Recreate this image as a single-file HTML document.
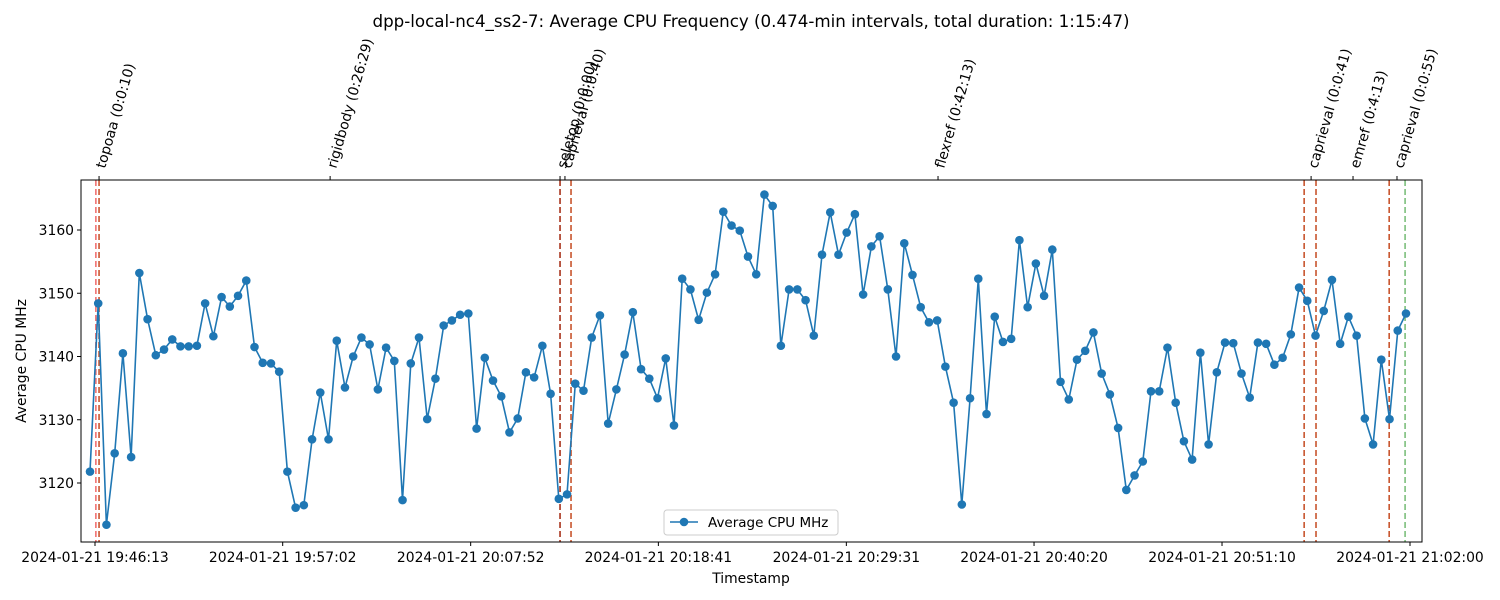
<!DOCTYPE html>
<html><head><meta charset="utf-8"><style>
body{margin:0;background:#fff;}
svg{display:block;font-family:"DejaVu Sans","Liberation Sans",sans-serif;}
</style></head><body>
<svg id="chart" width="1500" height="600">
<text x="751" y="27" font-size="16.7" text-anchor="middle">dpp-local-nc4_ss2-7: Average CPU Frequency (0.474-min intervals, total duration: 1:15:47)</text>
<text x="751" y="583" font-size="13.9" text-anchor="middle">Timestamp</text>
<text x="26" y="361" font-size="13.9" text-anchor="middle" transform="rotate(-90 26 361)">Average CPU MHz</text>
</svg>
<script>
const values=[3121.8,3148.4,3113.4,3124.7,3140.5,3124.1,3153.2,3145.9,3140.2,3141.1,3142.7,3141.6,3141.6,3141.7,3148.4,3143.2,3149.4,3147.9,3149.6,3152.0,3141.5,3139.0,3138.9,3137.6,3121.8,3116.1,3116.5,3126.9,3134.3,3126.9,3142.5,3135.1,3140.0,3143.0,3141.9,3134.8,3141.4,3139.3,3117.3,3138.9,3143.0,3130.1,3136.5,3144.9,3145.7,3146.6,3146.8,3128.6,3139.8,3136.2,3133.7,3128.0,3130.2,3137.5,3136.7,3141.7,3134.1,3117.5,3118.2,3135.7,3134.6,3143.0,3146.5,3129.4,3134.8,3140.3,3147.0,3138.0,3136.5,3133.4,3139.7,3129.1,3152.3,3150.6,3145.8,3150.1,3153.0,3162.9,3160.7,3159.9,3155.8,3153.0,3165.6,3163.8,3141.7,3150.6,3150.6,3148.9,3143.3,3156.1,3162.8,3156.1,3159.6,3162.5,3149.8,3157.4,3159.0,3150.6,3140.0,3157.9,3152.9,3147.8,3145.4,3145.7,3138.4,3132.7,3116.6,3133.4,3152.3,3130.9,3146.3,3142.3,3142.8,3158.4,3147.8,3154.7,3149.6,3156.9,3136.0,3133.2,3139.5,3140.9,3143.8,3137.3,3134.0,3128.7,3118.9,3121.2,3123.4,3134.5,3134.5,3141.4,3132.7,3126.6,3123.7,3140.6,3126.1,3137.5,3142.2,3142.1,3137.3,3133.5,3142.2,3142.0,3138.7,3139.8,3143.5,3150.9,3148.8,3143.3,3147.2,3152.1,3142.0,3146.3,3143.3,3130.2,3126.1,3139.5,3130.1,3144.1,3146.8];
const yTicks=[3120,3130,3140,3150,3160];
const xTickLabels=["2024-01-21 19:46:13","2024-01-21 19:57:02","2024-01-21 20:07:52","2024-01-21 20:18:41","2024-01-21 20:29:31","2024-01-21 20:40:20","2024-01-21 20:51:10","2024-01-21 21:02:00"];
const xTickSec=[0,649,1299,1948,2598,3247,3897,4547];
const stageNames=["topoaa (0:0:10)","rigidbody (0:26:29)","seletop (0:0:00)","caprieval (0:0:40)","flexref (0:42:13)","caprieval (0:0:41)","emref (0:4:13)","caprieval (0:0:55)"];
const stageSec=[14,813,1608,1625,2915,4205,4350,4502];
const vlineSec=[3,14,1608,1646,4181,4222,4475,4530];
const vlineColors=["#f07070","#c8552e","#a8321a","#c8552e","#c8552e","#c8552e","#c8552e","#7cbf7c"];
const firstSec=-17.3, stepSec=28.44;
const L=81,R=1422,T=180,B=542;
const sx=s=>95+s*(1315/4547);
const sy=v=>483-(v-3120)*6.325;
const svg=document.getElementById('chart');
const NS='http://www.w3.org/2000/svg';
function mk(tag,attrs){const e=document.createElementNS(NS,tag);for(const k in attrs)e.setAttribute(k,attrs[k]);svg.appendChild(e);return e;}
vlineSec.forEach((s,i)=>{const l=mk('line',{x1:sx(s),x2:sx(s),y1:T,y2:B,stroke:vlineColors[i],'stroke-width':1.6,'stroke-dasharray':'6,3'});

});
const pts=values.map((v,i)=>[sx(firstSec+i*stepSec),sy(v)]);
const pl=mk('polyline',{points:pts.map(p=>p[0].toFixed(1)+','+p[1].toFixed(1)).join(' '),fill:'none',stroke:'#1f77b4','stroke-width':1.6});


pts.forEach(p=>{const c=mk('circle',{cx:p[0],cy:p[1],r:4.3,fill:'#1f77b4'});

});
const fr=mk('rect',{x:L,y:T,width:R-L,height:B-T,fill:'none',stroke:'#000','stroke-width':1});


yTicks.forEach(v=>{const y=sy(v);mk('line',{x1:L-4,x2:L,y1:y,y2:y,stroke:'#000'});
const t=mk('text',{x:L-7,y:y+5,'font-size':13.9,'text-anchor':'end'});t.textContent=v;

});
xTickSec.forEach((s,i)=>{const x=sx(s);mk('line',{x1:x,x2:x,y1:B,y2:B+4,stroke:'#000'});
const t=mk('text',{x:x,y:B+20,'font-size':13.9,'text-anchor':'middle'});t.textContent=xTickLabels[i];

});
stageSec.forEach((s,i)=>{const x=sx(s);mk('line',{x1:x,x2:x,y1:T-4,y2:T,stroke:'#000'});
const tx=x+6,ty=T-11;
const t=mk('text',{x:tx,y:ty,'font-size':13.9,transform:`rotate(-74 ${tx} ${ty})`});t.textContent=stageNames[i];

});
const lg=mk('rect',{x:664,y:510,width:174,height:25,rx:3,fill:'#fff','fill-opacity':0.8,stroke:'#ccc'});


mk('line',{x1:670,x2:698,y1:522,y2:522,stroke:'#1f77b4','stroke-width':1.6});
mk('circle',{cx:684,cy:522,r:4.3,fill:'#1f77b4'});
const lt=mk('text',{x:708,y:527,'font-size':13.5});lt.textContent='Average CPU MHz';


</script>
</body></html>
